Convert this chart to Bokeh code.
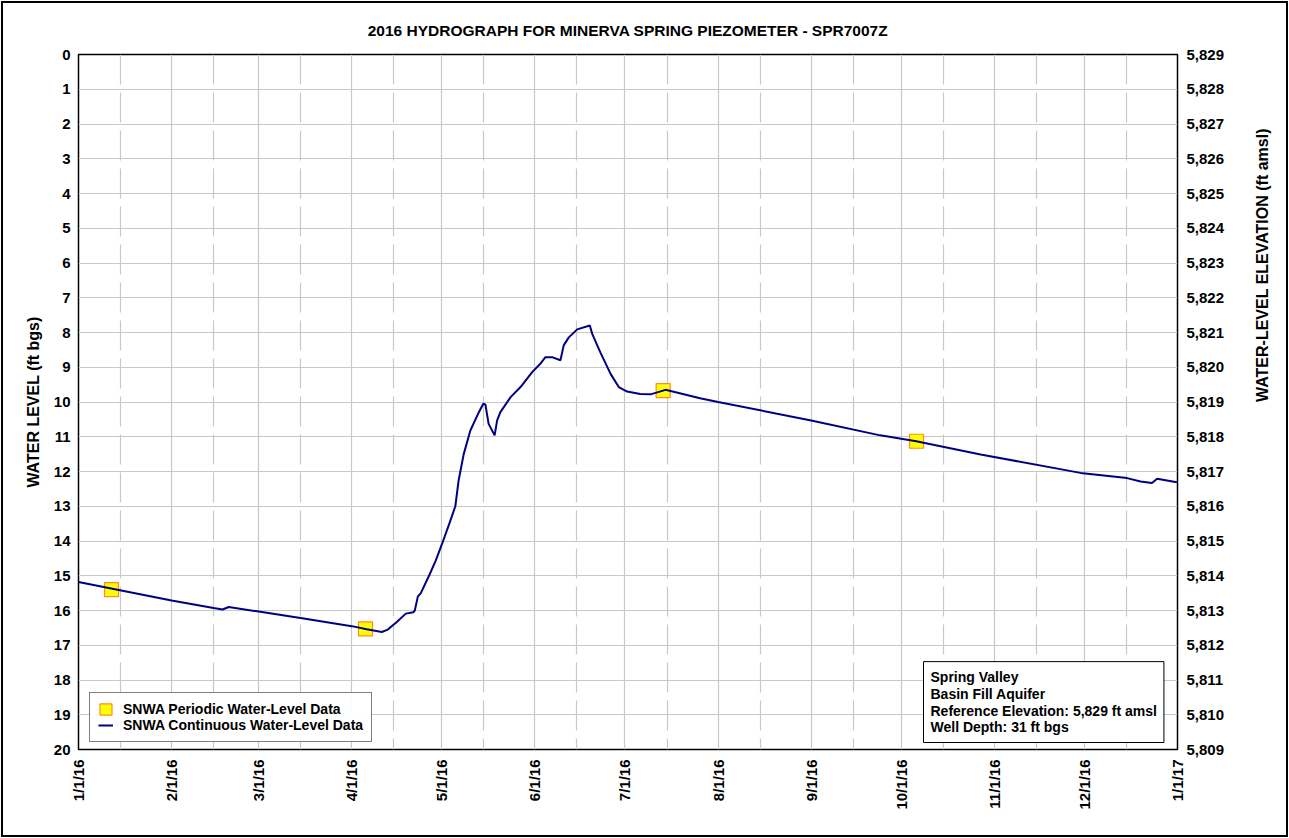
import math
import pandas as pd
from bokeh.plotting import figure
from bokeh.models import (FixedTicker, LinearAxis, Range1d, Legend, LegendItem,
                          Label, NumeralTickFormatter)
from bokeh.embed import file_html
from bokeh.resources import INLINE

TITLE = "2016 HYDROGRAPH FOR MINERVA SPRING PIEZOMETER - SPR7007Z"
Y_LEFT_LABEL = "WATER LEVEL (ft bgs)"
Y_RIGHT_LABEL = "WATER-LEVEL ELEVATION (ft amsl)"
REF_ELEV = 5829

cont_dates = [
    "2016-01-01", "2016-02-01", "2016-02-15", "2016-02-18", "2016-02-20",
    "2016-03-01", "2016-03-16", "2016-04-01", "2016-04-06", "2016-04-11",
    "2016-04-13", "2016-04-16", "2016-04-19", "2016-04-21 12:00", "2016-04-22",
    "2016-04-23", "2016-04-24", "2016-04-27", "2016-04-29", "2016-05-01",
    "2016-05-03 12:00", "2016-05-05 12:00", "2016-05-06 14:00", "2016-05-08 07:00",
    "2016-05-10 12:00", "2016-05-13 07:00", "2016-05-14 19:00", "2016-05-15 12:00",
    "2016-05-16 14:00", "2016-05-18 14:00", "2016-05-19 10:00", "2016-05-20 12:00",
    "2016-05-23 22:00", "2016-05-27 05:00", "2016-05-31 02:00", "2016-06-02 19:00",
    "2016-06-04 12:00", "2016-06-06 17:00", "2016-06-09 12:00", "2016-06-10 14:00",
    "2016-06-12 07:00", "2016-06-15 02:00", "2016-06-19 07:00", "2016-06-20 02:00",
    "2016-06-22 19:00", "2016-06-26 05:00", "2016-06-28 22:00", "2016-07-01 17:00",
    "2016-07-06 02:00", "2016-07-09 12:00", "2016-07-14 12:00", "2016-07-26",
    "2016-08-01", "2016-09-01", "2016-09-24", "2016-10-06", "2016-10-27 10:00",
    "2016-11-29 17:00", "2016-12-15 05:00", "2016-12-19 17:00", "2016-12-23 12:00",
    "2016-12-25 05:00", "2016-12-31 19:00",
]
cont_levels = [
    15.18, 15.71, 15.93, 15.97, 15.90,
    16.03, 16.23, 16.45, 16.54, 16.62,
    16.55, 16.33, 16.09, 16.05, 16.00,
    15.60, 15.50, 14.95, 14.56, 14.10,
    13.50, 13.00, 12.26, 11.50,
    10.82, 10.30, 10.05, 10.07,
    10.63, 10.96, 10.53, 10.29,
    9.86, 9.57, 9.14, 8.90,
    8.71, 8.71, 8.80, 8.37,
    8.14, 7.91, 7.80, 8.04,
    8.57, 9.19, 9.57, 9.70,
    9.77, 9.78, 9.65, 9.89,
    10.00, 10.53, 10.96, 11.13, 11.51,
    12.04, 12.19, 12.29, 12.33,
    12.21, 12.31,
]

per_dates = ["2016-01-12", "2016-04-05 14:00", "2016-07-13 17:00", "2016-10-06 02:00"]
per_levels = [15.40, 16.53, 9.67, 11.13]

tick_dates = ["2016-01-01", "2016-02-01", "2016-03-01", "2016-04-01", "2016-05-01",
              "2016-06-01", "2016-07-01", "2016-08-01", "2016-09-01", "2016-10-01",
              "2016-11-01", "2016-12-01", "2017-01-01"]
tick_labels = ["1/1/16", "2/1/16", "3/1/16", "4/1/16", "5/1/16", "6/1/16", "7/1/16",
               "8/1/16", "9/1/16", "10/1/16", "11/1/16", "12/1/16", "1/1/17"]
minor_dates = ["2016-01-15", "2016-02-15", "2016-03-15", "2016-04-15", "2016-05-15",
               "2016-06-15", "2016-07-15", "2016-08-15", "2016-09-15", "2016-10-15",
               "2016-11-15", "2016-12-15"]
depth_ticks = list(range(0, 21))
elev_ticks = list(range(5809, 5830))

legend_labels = ["SNWA Periodic Water-Level Data", "SNWA Continuous Water-Level Data"]
info_lines = ["Spring Valley", "Basin Fill Aquifer",
              "Reference Elevation: 5,829 ft amsl", "Well Depth: 31 ft bgs"]


def ms(s):
    return pd.Timestamp(s).value / 1e6


FONT = "Liberation Sans"

p = figure(width=1283, height=832, x_axis_type="datetime",
           x_range=Range1d(ms(tick_dates[0]), ms(tick_dates[-1])),
           y_range=Range1d(20, 0),
           output_backend="svg", toolbar_location=None,
           min_border_left=75, min_border_right=109,
           min_border_top=51, min_border_bottom=86,
           background_fill_color="white", border_fill_color="white")
p.styles = {"outline": "2px solid black", "margin": "3px 0 0 3px"}

p.title.text = TITLE
p.title.align = "center"
p.title.text_font = FONT
p.title.text_font_size = "15.5px"
p.title.text_font_style = "bold"
p.title.text_color = "black"
p.title.standoff = 31

p.outline_line_color = "black"
p.outline_line_width = 1.5

# x axis
xa = p.xaxis[0]
xa.ticker = FixedTicker(ticks=[ms(d) for d in tick_dates],
                        minor_ticks=[ms(d) for d in minor_dates])
xa.major_label_overrides = {ms(d): l for d, l in zip(tick_dates, tick_labels)}
xa.major_label_orientation = math.pi / 2
xa.major_label_standoff = 10

# left axis
ya = p.yaxis[0]
ya.ticker = FixedTicker(ticks=depth_ticks)
ya.axis_label = Y_LEFT_LABEL
ya.major_label_standoff = 8
ya.axis_label_standoff = 9

# right axis (elevation = reference elevation - depth)
p.extra_y_ranges = {"elev": Range1d(REF_ELEV - 20, REF_ELEV)}
ra = LinearAxis(y_range_name="elev", ticker=FixedTicker(ticks=elev_ticks),
                formatter=NumeralTickFormatter(format="0,0"),
                axis_label=Y_RIGHT_LABEL)
ra.major_label_standoff = 9
ra.axis_label_standoff = 35
ra.axis_label_orientation = math.pi / 2
p.add_layout(ra, "right")

for ax in [xa, ya, ra]:
    ax.major_label_text_font = FONT
    ax.major_label_text_font_size = "15px"
    ax.major_label_text_font_style = "bold"
    ax.major_label_text_color = "black"
    ax.axis_label_text_font = FONT
    ax.axis_label_text_font_size = "16px"
    ax.axis_label_text_font_style = "bold"
    ax.axis_label_text_color = "black"
    ax.major_tick_line_color = None
    ax.minor_tick_line_color = None
    ax.major_tick_out = 0
    ax.major_tick_in = 0
    ax.minor_tick_out = 0
    ax.minor_tick_in = 0
    ax.axis_line_color = None

p.xgrid.grid_line_color = "#c8c8c8"
p.xgrid.grid_line_width = 1.2
p.xgrid.minor_grid_line_color = "#c8c8c8"
p.xgrid.minor_grid_line_width = 1.2
p.xgrid.minor_grid_line_dash = "30 8"
p.ygrid.grid_line_color = "#c8c8c8"
p.ygrid.grid_line_width = 1.2

cd = pd.to_datetime(cont_dates, format="mixed")
pdt = pd.to_datetime(per_dates, format="mixed")

r_sq = p.rect(pdt, per_levels, width=14, height=14,
              width_units="screen", height_units="screen",
              fill_color="#ffff00", line_color="#ff8c1a", line_width=1.2)
r_ln = p.line(cd, cont_levels, line_color="#000080", line_width=2)

legend = Legend(items=[LegendItem(label=legend_labels[0], renderers=[r_sq]),
                       LegendItem(label=legend_labels[1], renderers=[r_ln])],
                location=(11, 7))
legend.label_text_font = FONT
legend.label_text_font_size = "14px"
legend.label_text_font_style = "bold"
legend.label_text_color = "black"
legend.border_line_color = "black"
legend.border_line_width = 1
legend.padding = 8
legend.spacing = 0
legend.label_height = 14
legend.glyph_height = 14
legend.glyph_width = 15
legend.label_standoff = 10
legend.margin = 0
p.add_layout(legend)

info = Label(x=845, y=7, x_units="screen", y_units="screen",
             text="\n".join(info_lines),
             text_font=FONT, text_font_size="14px", text_font_style="bold",
             text_color="black", text_align="left", text_baseline="bottom",
             text_line_height=1.06,
             border_line_color="black", border_line_width=1,
             background_fill_color="white", padding=7)
p.add_layout(info)

open("out.html", "w").write(file_html(p, INLINE))
